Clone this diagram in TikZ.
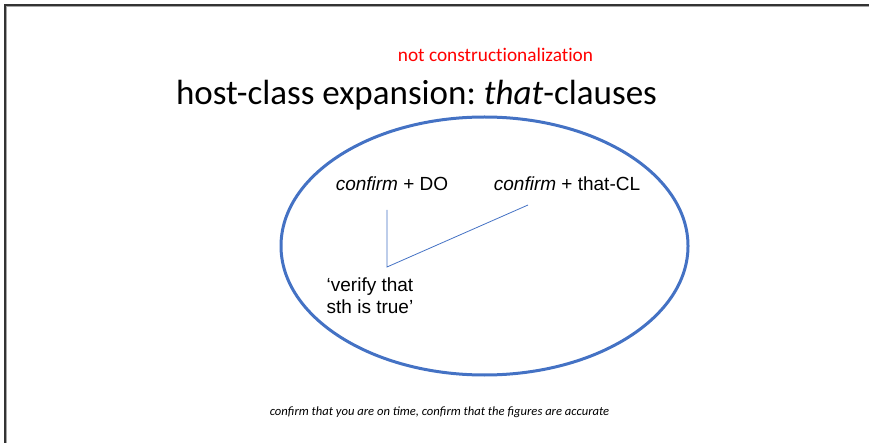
\documentclass[tikz,border=0pt]{standalone}
\usepackage{fontspec}
\setmainfont{Carlito}
\newfontfamily\arialfont{Liberation Sans}
\definecolor{ellblue}{RGB}{68,114,196}
\tikzset{
  sense/.style={font=\arialfont\fontsize{19}{22}\selectfont, inner sep=0pt},
  link/.style={ellblue, line width=0.8pt}
}
\begin{document}
\frenchspacing
\begin{tikzpicture}[x=1pt,y=-1pt]
    \useasboundingbox (0,0) rectangle (869,443);
    \draw[line width=2.5pt, black!35] (5.5,443) -- (5.5,5.5) -- (869,5.5);
    \draw[line width=1.2pt, black!80] (5,443) -- (5,5) -- (869,5);
    \node[red, font=\fontsize{19.3}{22}\selectfont\addfontfeatures{Ligatures=NoCommon}] (note) at (495.5,55) {not constructionalization};
    \node[font=\fontsize{35}{40}\selectfont] (title) at (416.5,95) {host-class expansion: \textit{that}-clauses};
    \draw[ellblue, line width=3pt] (484.5,246) ellipse (203.5 and 129);
    \node[sense] (do) at (392,184) {\textit{confirm} + DO};
    \node[sense] (cl) at (567,184) {\textit{confirm} + that-CL};
    \node[sense, align=left] (verify) at (370,296) {‘verify that\\sth is true’};
    \coordinate (top) at (387,210);
    \coordinate (bend) at (387,267);
    \coordinate (end) at (528,205);
    \draw[link] (top) -- (bend) -- (end);
    \node[font=\itshape\fontsize{12.6}{15}\selectfont] (ex) at (439.5,412) {confirm that you are on time, confirm that the figures are accurate};
  \end{tikzpicture}
\end{document}
